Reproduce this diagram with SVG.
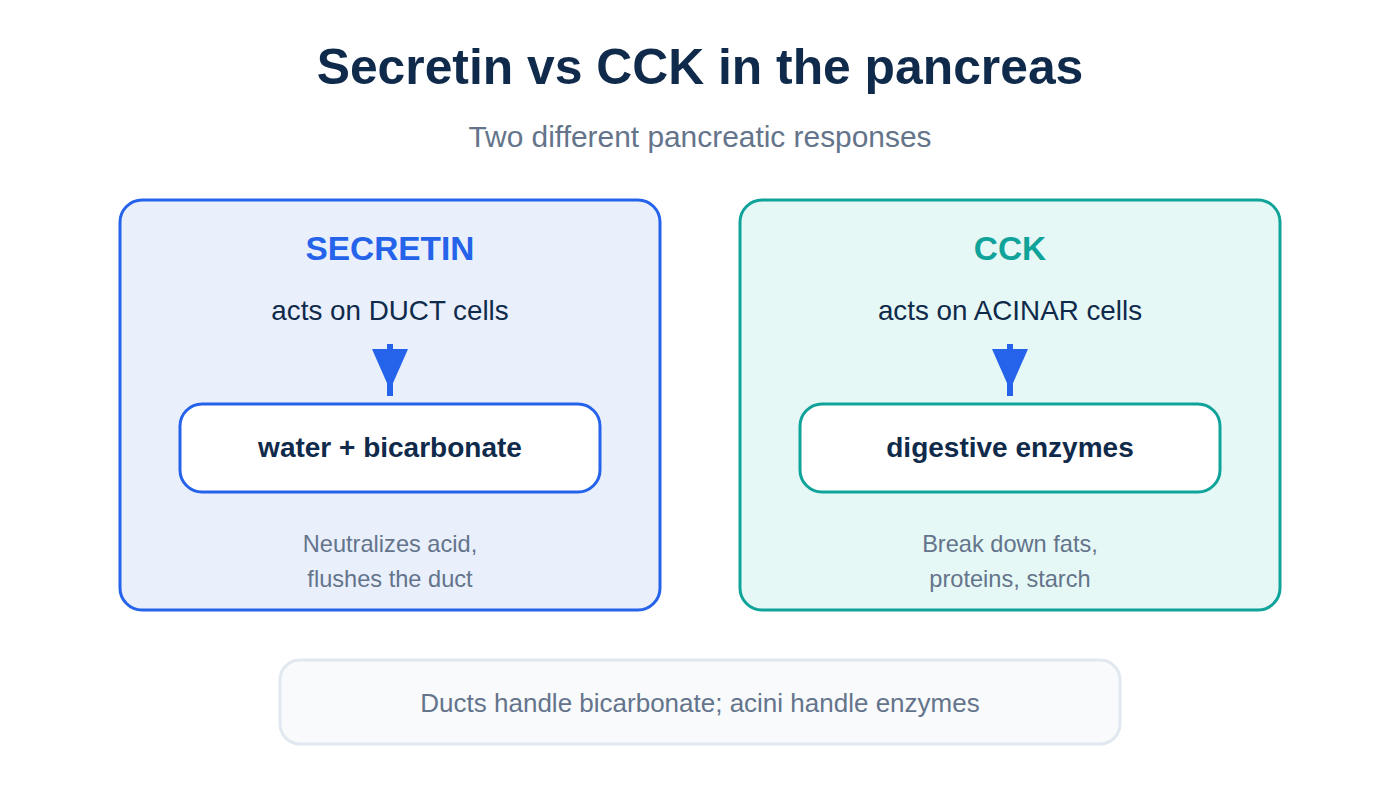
<svg xmlns="http://www.w3.org/2000/svg" width="1400" height="800" viewBox="0 0 1400 800">
  <defs>
    <marker id="arrowhead" markerUnits="userSpaceOnUse" markerWidth="48" markerHeight="36" refX="47" refY="18" orient="auto" overflow="visible">
      <path d="M0,0 L41,18 L0,36 Z" fill="#2563eb"/>
    </marker>
    <style>
      text { font-family: "Liberation Sans", Arial, sans-serif; text-anchor: middle; }
      .title { font-size: 49.8px; font-weight: bold; fill: #0f2a4a; }
      .subtitle { font-size: 29.9px; fill: #64748b; }
      .panel { stroke-width: 3; }
      .head { font-size: 33.4px; font-weight: bold; }
      .acts { font-size: 27.8px; fill: #0f2a4a; }
      .result { fill: #ffffff; stroke-width: 3; }
      .resultText { font-size: 28px; font-weight: bold; fill: #0f2a4a; }
      .note { font-size: 23.6px; fill: #64748b; }
      .arrow { stroke: #2563eb; stroke-width: 6; fill: none; marker-end: url(#arrowhead); }
      .footer { fill: #f8fafc; stroke: #e2e8f0; stroke-width: 3; }
      .footerText { font-size: 26px; fill: #64748b; }
    </style>
  </defs>
  <rect width="1400" height="800" fill="#ffffff"/>

  <g id="header">
    <text class="title" x="700" y="84">Secretin vs CCK in the pancreas</text>
    <text class="subtitle" x="700" y="147">Two different pancreatic responses</text>
  </g>

  <g id="secretin-panel">
    <rect class="panel" x="120" y="200" width="540" height="410" rx="22" fill="#e9f0fc" stroke="#2563eb"/>
    <text class="head" x="390" y="260" fill="#2563eb">SECRETIN</text>
    <text class="acts" x="390" y="320">acts on DUCT cells</text>
    <text class="note" x="390" y="552">Neutralizes acid,</text>
    <text class="note" x="390" y="587">flushes the duct</text>
  </g>
  <g id="secretin-result">
    <rect class="result" x="180" y="404" width="420" height="88" rx="22" stroke="#2563eb"/>
    <text class="resultText" x="390" y="457">water + bicarbonate</text>
  </g>

  <g id="cck-panel">
    <rect class="panel" x="740" y="200" width="540" height="410" rx="22" fill="#e6f8f6" stroke="#0fa39a"/>
    <text class="head" x="1010" y="260" fill="#0fa39a">CCK</text>
    <text class="acts" x="1010" y="320">acts on ACINAR cells</text>
    <text class="note" x="1010" y="552">Break down fats,</text>
    <text class="note" x="1010" y="587">proteins, starch</text>
  </g>
  <g id="cck-result">
    <rect class="result" x="800" y="404" width="420" height="88" rx="22" stroke="#0fa39a"/>
    <text class="resultText" x="1010" y="457">digestive enzymes</text>
  </g>

  <g id="connectors">
    <line class="arrow" x1="390" y1="344" x2="390" y2="396"/>
    <line class="arrow" x1="1010" y1="344" x2="1010" y2="396"/>
  </g>

  <g id="footer">
    <rect class="footer" x="280" y="660" width="840" height="84" rx="20"/>
    <text class="footerText" x="700" y="712">Ducts handle bicarbonate; acini handle enzymes</text>
  </g>
</svg>
